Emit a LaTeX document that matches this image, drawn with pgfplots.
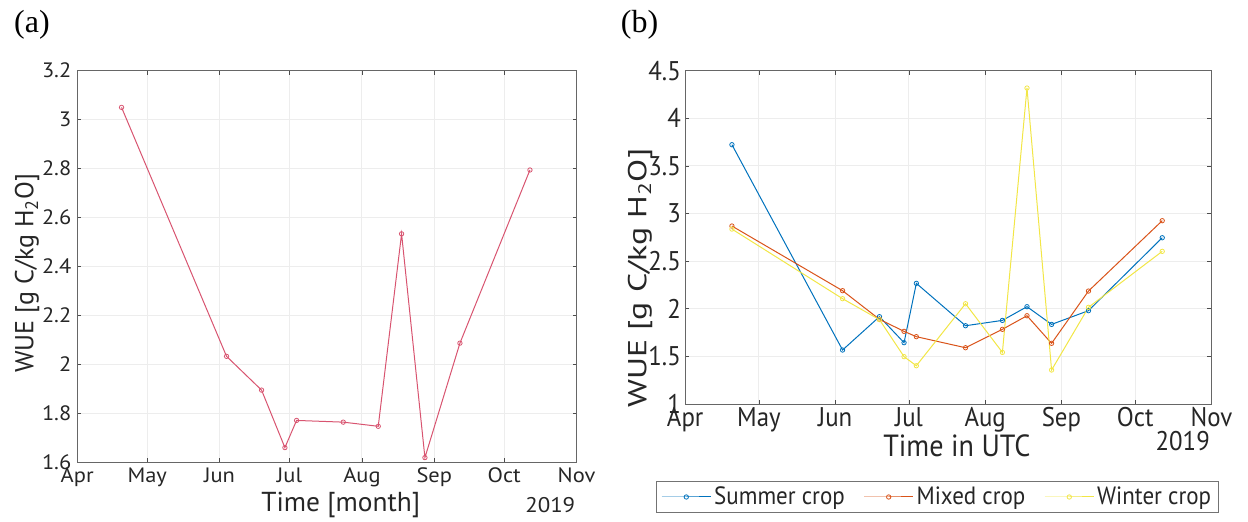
\documentclass[border=0pt]{standalone}
\usepackage{pgfplots}
\pgfplotsset{compat=1.18}
\usepackage{fontspec}
\setmainfont{PT Sans}
\newfontfamily\afont{PT Sans}[FakeStretch=1.08]
\newfontfamily\bfont{PT Sans}[FakeStretch=0.92]
\newfontfamily\tallfont{PT Sans}[FakeStretch=1.3]
\newfontfamily\panelfont{Liberation Serif}

\definecolor{txt}{RGB}{38,38,38}
\definecolor{seriesA}{RGB}{216,84,112}
\definecolor{summer}{RGB}{0,114,189}
\definecolor{mixed}{RGB}{217,83,25}
\definecolor{winter}{RGB}{242,230,70}

% x = days since 1 April 2019
\pgfplotstableread{
day wue
19  3.050
64  2.032
79  1.894
89  1.659
94  1.770
114 1.763
129 1.746
139 2.533
149 1.618
164 2.086
194 2.794
}\allcrops

\pgfplotstableread{
day summer mixed winter
19  3.723 2.869 2.837
64  1.567 2.190 2.106
79  1.917 1.889 1.886
89  1.644 1.763 1.497
94  2.267 1.707 1.402
114 1.822 1.591 2.053
129 1.878 1.784 1.542
139 2.022 1.927 4.318
149 1.836 1.637 1.357
164 1.980 2.186 2.015
194 2.746 2.925 2.603
}\bycrop

\pgfplotsset{
  monthaxis/.style={
    scale only axis,
    xmin=0, xmax=214,
    xtick={0,30,61,91,122,153,183,214},
    xticklabels={Apr,May,Jun,Jul,Aug,Sep,Oct,Nov},
    tick align=inside,
    major tick length=2pt,
    tick style={black!70, line width=0.4pt},
    axis line style={black!60, line width=0.5pt},
    grid=major,
    major grid style={black!7, line width=0.5pt},
    /pgf/number format/assume math mode=true,
    ticklabel style={text=txt},
    every axis plot/.append style={line width=0.5pt, mark=o, mark size=1.1pt,
      mark options={line width=0.4pt, solid}},
  },
}

\begin{document}
\begin{tikzpicture}
\path[use as bounding box] (0pt,0pt) rectangle (624pt,260.5pt);

% (a) all crops
\begin{axis}[monthaxis,
  at={(38.6pt,29.5pt)}, anchor=south west,
  width=249.7pt, height=195.65pt,
  ymin=1.6, ymax=3.2,
  ytick={1.6,1.8,2,2.2,2.4,2.6,2.8,3,3.2},
  yticklabels={1.6,1.8,2,2.2,2.4,2.6,2.8,3,3.2},
  ticklabel style={font=\afont\fontsize{10.4}{12}\selectfont},
  yticklabel style={inner sep=0pt, xshift=-2.75pt},
  xticklabel style={anchor=base, inner sep=0pt, yshift=-10pt},
]
\addplot[seriesA] table[x=day, y=wue] {\allcrops};
\end{axis}

% (b) by crop type
\begin{axis}[monthaxis,
  at={(342.6pt,58.5pt)}, anchor=south west,
  width=263.1pt, height=166.65pt,
  ymin=1, ymax=4.5,
  ytick={1,1.5,2,2.5,3,3.5,4,4.5},
  yticklabels={1,1.5,2,2.5,3,3.5,4,4.5},
  ticklabel style={font=\bfont\fontsize{13.5}{15}\selectfont},
  yticklabel style={inner sep=0pt, xshift=-2pt},
  xticklabel style={anchor=base, inner sep=0pt, yshift=-11.3pt},
  legend columns=3,
  legend style={at={(axis description cs:0.48,-0.279)}, anchor=center,
    draw=black!55, line width=0.5pt, text=txt,
    font=\bfont\fontsize{12.5}{14}\selectfont,
    inner xsep=2.4pt, inner ysep=1pt,
    nodes={inner sep=1.5pt},
    /tikz/every even column/.append style={column sep=8pt}},
  legend image code/.code={%
    \draw[mark repeat=2, mark phase=2, #1]
      plot coordinates {(0pt,0pt) (12.2pt,0pt) (24.4pt,0pt)};},
]
\addplot[summer] table[x=day, y=summer] {\bycrop};
\addlegendentry{Summer crop}
\addplot[mixed] table[x=day, y=mixed] {\bycrop};
\addlegendentry{Mixed crop}
\addplot[winter] table[x=day, y=winter] {\bycrop};
\addlegendentry{Winter crop}
\end{axis}

% axis titles and year marks
\node[text=txt, font=\fontsize{13.7}{15}\selectfont, anchor=base]
  at (170.4pt,4.65pt) {Time [month]};
\node[text=txt, font=\afont\fontsize{10.6}{12}\selectfont, anchor=base east, inner sep=0pt]
  at (287.8pt,4.5pt) {2019};
\node[text=txt, font=\fontsize{13}{15}\selectfont, rotate=90, anchor=base]
  at (16.7pt,124pt) {WUE [g C/kg H\textsubscript{2}O]};

\node[text=txt, font=\bfont\fontsize{15.3}{17}\selectfont, anchor=base]
  at (478.4pt,32.2pt) {Time in UTC};
\node[text=txt, font=\bfont\fontsize{13.5}{15}\selectfont, anchor=base east, inner sep=0pt]
  at (605.1pt,35.5pt) {2019};
\node[text=txt, font=\tallfont\fontsize{13}{15}\selectfont, rotate=90, anchor=base]
  at (323.2pt,121.5pt) {WUE [g C/kg H\textsubscript{2}O]};

% panel letters
\node[font=\panelfont\fontsize{16}{18}\selectfont] at (16pt,248pt) {(a)};
\node[font=\panelfont\fontsize{16}{18}\selectfont] at (319.75pt,248pt) {(b)};
\end{tikzpicture}
\end{document}
